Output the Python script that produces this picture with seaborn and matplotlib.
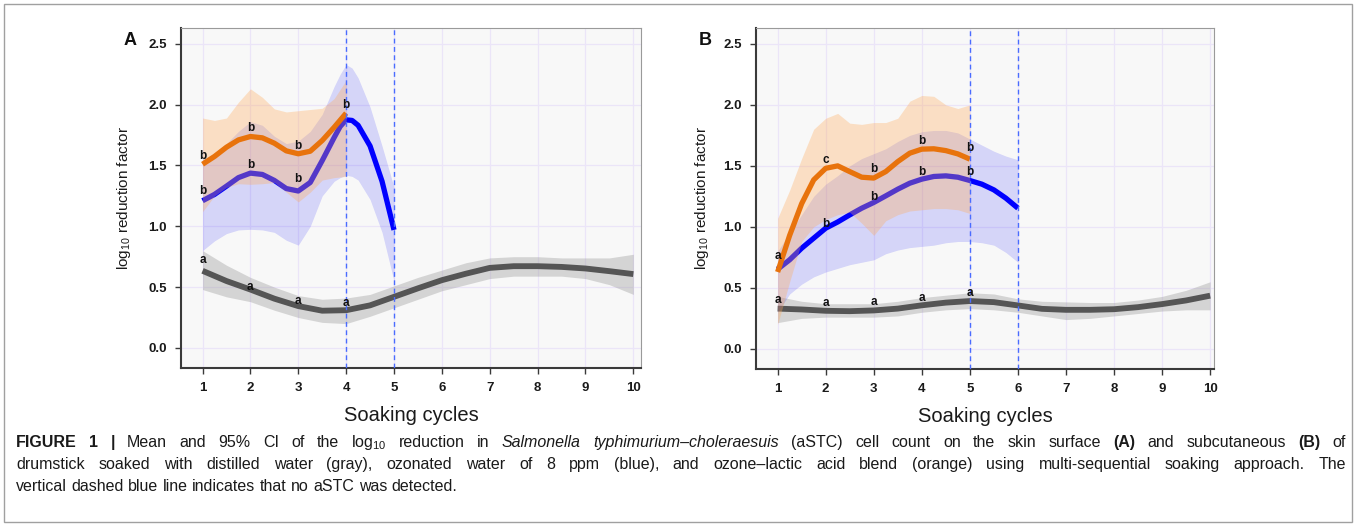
import numpy as np
import pandas as pd
import matplotlib
matplotlib.use("Agg")
import matplotlib.pyplot as plt
import seaborn as sns
from matplotlib.patches import Rectangle

# ---------------- data ----------------
cycles = [1, 2, 3, 4, 5, 6, 7, 8, 9, 10]
y_ticks = [0.0, 0.5, 1.0, 1.5, 2.0, 2.5]

# Panel A (skin surface)
A_orange_x = [1, 1.25, 1.5, 1.75, 2, 2.25, 2.5, 2.75, 3, 3.25, 3.5, 3.75, 4]
A_orange_mean = [1.51, 1.574, 1.65, 1.71, 1.738, 1.727, 1.683, 1.62, 1.596, 1.617, 1.705, 1.814, 1.93]
A_orange_hi = [1.89, 1.87, 1.89, 2.02, 2.13, 2.06, 1.965, 1.94, 1.95, 1.96, 1.97, 2.05, 2.20]
A_orange_lo = [1.12, 1.25, 1.32, 1.35, 1.345, 1.35, 1.36, 1.28, 1.20, 1.28, 1.38, 1.40, 1.41]

A_blue_x = [1, 1.25, 1.5, 1.75, 2, 2.25, 2.5, 2.75, 3, 3.25, 3.5, 3.75, 3.875, 4, 4.125, 4.25, 4.5, 4.75, 5]
A_blue_mean = [1.21, 1.262, 1.33, 1.40, 1.437, 1.426, 1.377, 1.31, 1.29, 1.36, 1.54, 1.73, 1.82, 1.875, 1.87, 1.83, 1.66, 1.37, 0.97]
A_blue_hi = [1.55, 1.60, 1.68, 1.78, 1.86, 1.83, 1.74, 1.68, 1.70, 1.78, 1.92, 2.15, 2.25, 2.33, 2.30, 2.22, 1.98, 1.66, 1.32]
A_blue_lo = [0.80, 0.88, 0.94, 0.97, 0.975, 0.97, 0.95, 0.885, 0.845, 1.0, 1.25, 1.37, 1.40, 1.42, 1.41, 1.38, 1.22, 0.95, 0.55]

A_gray_x = [1, 1.5, 2, 2.5, 3, 3.5, 4, 4.5, 5, 5.5, 6, 6.5, 7, 7.5, 8, 8.5, 9, 9.5, 10]
A_gray_mean = [0.634, 0.55, 0.48, 0.405, 0.344, 0.306, 0.31, 0.35, 0.42, 0.49, 0.557, 0.61, 0.658, 0.672, 0.672, 0.666, 0.653, 0.631, 0.607]
A_gray_hi = [0.80, 0.68, 0.58, 0.50, 0.43, 0.40, 0.41, 0.44, 0.51, 0.58, 0.64, 0.70, 0.74, 0.75, 0.75, 0.74, 0.74, 0.74, 0.77]
A_gray_lo = [0.48, 0.42, 0.38, 0.31, 0.25, 0.21, 0.20, 0.26, 0.33, 0.40, 0.47, 0.52, 0.57, 0.59, 0.59, 0.59, 0.57, 0.52, 0.44]

A_nodetect = [4, 5]

A_orange_let_x = [1, 2, 3, 4]
A_orange_let = ["b", "b", "b", "b"]
A_orange_let_y = [1.58, 1.81, 1.66, 2.00]
A_blue_let_x = [1, 2, 3]
A_blue_let = ["b", "b", "b"]
A_blue_let_y = [1.29, 1.50, 1.39]
A_gray_let_x = [1, 2, 3, 4]
A_gray_let = ["a", "a", "a", "a"]
A_gray_let_y = [0.72, 0.50, 0.385, 0.37]

# Panel B (subcutaneous)
B_orange_x = [1, 1.25, 1.5, 1.75, 2, 2.25, 2.5, 2.75, 3, 3.25, 3.5, 3.75, 4, 4.25, 4.5, 4.75, 5]
B_orange_mean = [0.63, 0.93, 1.19, 1.385, 1.48, 1.50, 1.453, 1.407, 1.40, 1.453, 1.535, 1.604, 1.637, 1.64, 1.625, 1.598, 1.555]
B_orange_hi = [1.07, 1.30, 1.56, 1.80, 1.89, 1.93, 1.85, 1.84, 1.855, 1.855, 1.89, 2.03, 2.077, 2.07, 2.0, 1.97, 2.0]
B_orange_lo = [0.20, 0.55, 0.88, 1.00, 1.06, 1.10, 1.12, 1.03, 0.93, 1.05, 1.10, 1.13, 1.14, 1.15, 1.15, 1.14, 1.11]

B_blue_x = [1, 1.25, 1.5, 1.75, 2, 2.25, 2.5, 2.75, 3, 3.25, 3.5, 3.75, 4, 4.25, 4.5, 4.75, 5, 5.25, 5.5, 5.75, 6]
B_blue_mean = [0.653, 0.73, 0.825, 0.907, 0.989, 1.04, 1.098, 1.153, 1.20, 1.254, 1.309, 1.358, 1.391, 1.413, 1.418, 1.407, 1.38, 1.35, 1.303, 1.235, 1.153]
B_blue_hi = [0.80, 0.95, 1.10, 1.25, 1.35, 1.42, 1.50, 1.56, 1.60, 1.64, 1.70, 1.75, 1.78, 1.79, 1.79, 1.77, 1.72, 1.67, 1.62, 1.58, 1.55]
B_blue_lo = [0.30, 0.45, 0.53, 0.59, 0.63, 0.66, 0.69, 0.71, 0.73, 0.78, 0.81, 0.83, 0.84, 0.85, 0.87, 0.88, 0.88, 0.87, 0.85, 0.79, 0.71]

B_gray_x = [1, 1.5, 2, 2.5, 3, 3.5, 4, 4.5, 5, 5.5, 6, 6.5, 7, 7.5, 8, 8.5, 9, 9.5, 10]
B_gray_mean = [0.33, 0.323, 0.312, 0.309, 0.315, 0.33, 0.357, 0.379, 0.392, 0.383, 0.356, 0.328, 0.32, 0.32, 0.325, 0.342, 0.367, 0.397, 0.436]
B_gray_hi = [0.43, 0.39, 0.37, 0.37, 0.37, 0.39, 0.42, 0.44, 0.46, 0.45, 0.41, 0.39, 0.385, 0.38, 0.38, 0.40, 0.43, 0.48, 0.55]
B_gray_lo = [0.215, 0.25, 0.26, 0.26, 0.26, 0.27, 0.30, 0.32, 0.33, 0.32, 0.30, 0.27, 0.24, 0.25, 0.27, 0.29, 0.31, 0.32, 0.32]

B_nodetect = [5, 6]

B_orange_let_x = [1, 2, 3, 4, 5]
B_orange_let = ["a", "c", "b", "b", "b"]
B_orange_let_y = [0.762, 1.55, 1.473, 1.705, 1.645]
B_blue_let_x = [2, 3, 4, 5]
B_blue_let = ["b", "b", "b", "b"]
B_blue_let_y = [1.025, 1.243, 1.453, 1.453]
B_gray_let_x = [1, 2, 3, 4, 5]
B_gray_let = ["a", "a", "a", "a", "a"]
B_gray_let_y = [0.403, 0.379, 0.384, 0.419, 0.457]

# ---------------- style ----------------
sns.set_theme(style="whitegrid")
plt.rcParams["font.family"] = ["Liberation Sans", "DejaVu Sans"]
plt.rcParams["mathtext.fontset"] = "custom"
plt.rcParams["mathtext.rm"] = "Liberation Sans"
plt.rcParams["mathtext.it"] = "Liberation Sans:italic"
plt.rcParams["mathtext.bf"] = "Liberation Sans:bold"

W, H = 1357, 529
fig = plt.figure(figsize=(W / 100, H / 100), dpi=100)
fig.patch.set_facecolor("white")


def px_axes(l, t, r, b):
    return fig.add_axes([l / W, 1 - b / H, (r - l) / W, (b - t) / H])


C_ORANGE_LINE = "#e8730c"
C_ORANGE_FILL = "#ffab5a"
C_BLUE_LINE = "#0000ff"
C_BLUE_FILL = "#0000ff"
C_GRAY_LINE = "#555555"
C_GRAY_FILL = "#9a9a9a"
C_VLINE = "#4a6cff"


def draw_panel(ax, groups, nodetect, letters, ylab_x, xmax):
    ax.set_facecolor("#f8f8f8")
    z = 2
    for (x, m, lo, hi, lc, fc, fa, lw) in groups:
        ax.fill_between(x, lo, hi, color=fc, alpha=fa, linewidth=0, zorder=z)
        df = pd.DataFrame({"cycle": x, "value": m})
        sns.lineplot(data=df, x="cycle", y="value", ax=ax, color=lc, linewidth=lw,
                     solid_capstyle="butt", solid_joinstyle="round", zorder=z + 1)
        z += 2
    for xv in nodetect:
        ax.axvline(xv, color=C_VLINE, linewidth=1.0, linestyle=(0, (3.5, 2.5)), zorder=z)
    for lx, lt, ly in letters:
        for xx, tt, yy in zip(lx, lt, ly):
            ax.text(xx, yy, tt, ha="center", va="center", fontsize=8.5, fontweight="bold",
                    color="#111111", zorder=z + 1)
    ax.set_xlim(0.55, xmax)
    ax.set_ylim(-0.165, 2.63)
    ax.set_xticks(cycles)
    ax.set_xticklabels([str(c) for c in cycles])
    ax.set_yticks(y_ticks)
    ax.set_yticklabels([f"{v:.1f}" for v in y_ticks])
    ax.grid(True, color="#ebe5f8", linewidth=0.9)
    ax.set_axisbelow(True)
    for lab in ax.get_xticklabels() + ax.get_yticklabels():
        lab.set_fontweight("bold")
        lab.set_fontsize(9.5)
        lab.set_color("#1a1a1a")
    ax.tick_params(axis="both", direction="out", length=4, width=1, color="#3a3a3a",
                   bottom=True, left=True, pad=6)
    for s in ["left", "bottom"]:
        ax.spines[s].set_color("#3a3a3a")
        ax.spines[s].set_linewidth(1.5)
    for s in ["top", "right"]:
        ax.spines[s].set_color("#9a9a9a")
        ax.spines[s].set_linewidth(0.8)
    ax.set_xlabel("Soaking cycles", fontsize=14.5, color="#1a1a1a")
    ax.set_ylabel("log$_{10}$ reduction factor", fontsize=11, color="#1a1a1a")
    ax.xaxis.set_label_coords(0.5, -0.112)
    ax.yaxis.set_label_coords(ylab_x, 0.5)


axA = px_axes(181, 28, 641, 368)
axB = px_axes(756, 28, 1214, 369)

draw_panel(
    axA,
    [
        (A_gray_x, A_gray_mean, A_gray_lo, A_gray_hi, C_GRAY_LINE, C_GRAY_FILL, 0.38, 4.2),
        (A_blue_x, A_blue_mean, A_blue_lo, A_blue_hi, C_BLUE_LINE, C_BLUE_FILL, 0.14, 3.8),
        (A_orange_x, A_orange_mean, A_orange_lo, A_orange_hi, C_ORANGE_LINE, C_ORANGE_FILL, 0.33, 3.8),
    ],
    A_nodetect,
    [(A_orange_let_x, A_orange_let, A_orange_let_y),
     (A_blue_let_x, A_blue_let, A_blue_let_y),
     (A_gray_let_x, A_gray_let, A_gray_let_y)],
    -0.104, 10.16,
)
draw_panel(
    axB,
    [
        (B_gray_x, B_gray_mean, B_gray_lo, B_gray_hi, C_GRAY_LINE, C_GRAY_FILL, 0.38, 4.2),
        (B_blue_x, B_blue_mean, B_blue_lo, B_blue_hi, C_BLUE_LINE, C_BLUE_FILL, 0.14, 3.8),
        (B_orange_x, B_orange_mean, B_orange_lo, B_orange_hi, C_ORANGE_LINE, C_ORANGE_FILL, 0.33, 3.8),
    ],
    B_nodetect,
    [(B_orange_let_x, B_orange_let, B_orange_let_y),
     (B_blue_let_x, B_blue_let, B_blue_let_y),
     (B_gray_let_x, B_gray_let, B_gray_let_y)],
    -0.099, 10.08,
)

fig.text(130 / W, 1 - 40 / H, "A", fontsize=13, fontweight="bold", ha="center", va="center", color="#111111")
fig.text(705 / W, 1 - 40 / H, "B", fontsize=13, fontweight="bold", ha="center", va="center", color="#111111")

# outer frame
fig.add_artist(Rectangle((4 / W, 1 - 522 / H), 1348 / W, 518 / H, transform=fig.transFigure,
                         fill=False, edgecolor="#a0a0a0", linewidth=1.0))

# ---------------- caption (justified) ----------------
CAP_FS = 11.5
cap_lines = [
    ([("FIGURE", "b"), ("1", "b"), ("|", "b"), ("Mean", "n"), ("and", "n"), ("95%", "n"), ("CI", "n"),
      ("of", "n"), ("the", "n"), ("log$_{10}$", "n"), ("reduction", "n"), ("in", "n"),
      ("Salmonella", "i"), ("typhimurium–choleraesuis", "i"), ("(aSTC)", "n"), ("cell", "n"),
      ("count", "n"), ("on", "n"), ("the", "n"), ("skin", "n"), ("surface", "n"), ("(A)", "b"),
      ("and", "n"), ("subcutaneous", "n"), ("(B)", "b"), ("of", "n")], 447, True),
    ([(w, "n") for w in ("drumstick soaked with distilled water (gray), ozonated water of 8 ppm "
                         "(blue), and ozone–lactic acid blend (orange) using multi-sequential "
                         "soaking approach. The").split(" ")], 469, True),
    ([(w, "n") for w in "vertical dashed blue line indicates that no aSTC was detected.".split(" ")], 491, False),
]

renderer = fig.canvas.get_renderer()
X0, X1 = 16, 1346
space_px = CAP_FS * 0.278 * 100 / 72
for tokens, base, justify in cap_lines:
    objs = []
    total = 0.0
    for s, st in tokens:
        kw = dict(fontsize=CAP_FS, color="#1a1a1a", ha="left", va="baseline")
        if st == "b":
            kw["fontweight"] = "bold"
        if st == "i":
            kw["fontstyle"] = "italic"
        t = fig.text(0, 1 - base / H, s, **kw)
        w = t.get_window_extent(renderer).width
        objs.append((t, w))
        total += w
    gap = (X1 - X0 - total) / (len(objs) - 1) if justify else space_px
    x = X0
    for t, w in objs:
        t.set_x(x / W)
        x += w + gap

fig.savefig("out.png", dpi=100, facecolor="white")
